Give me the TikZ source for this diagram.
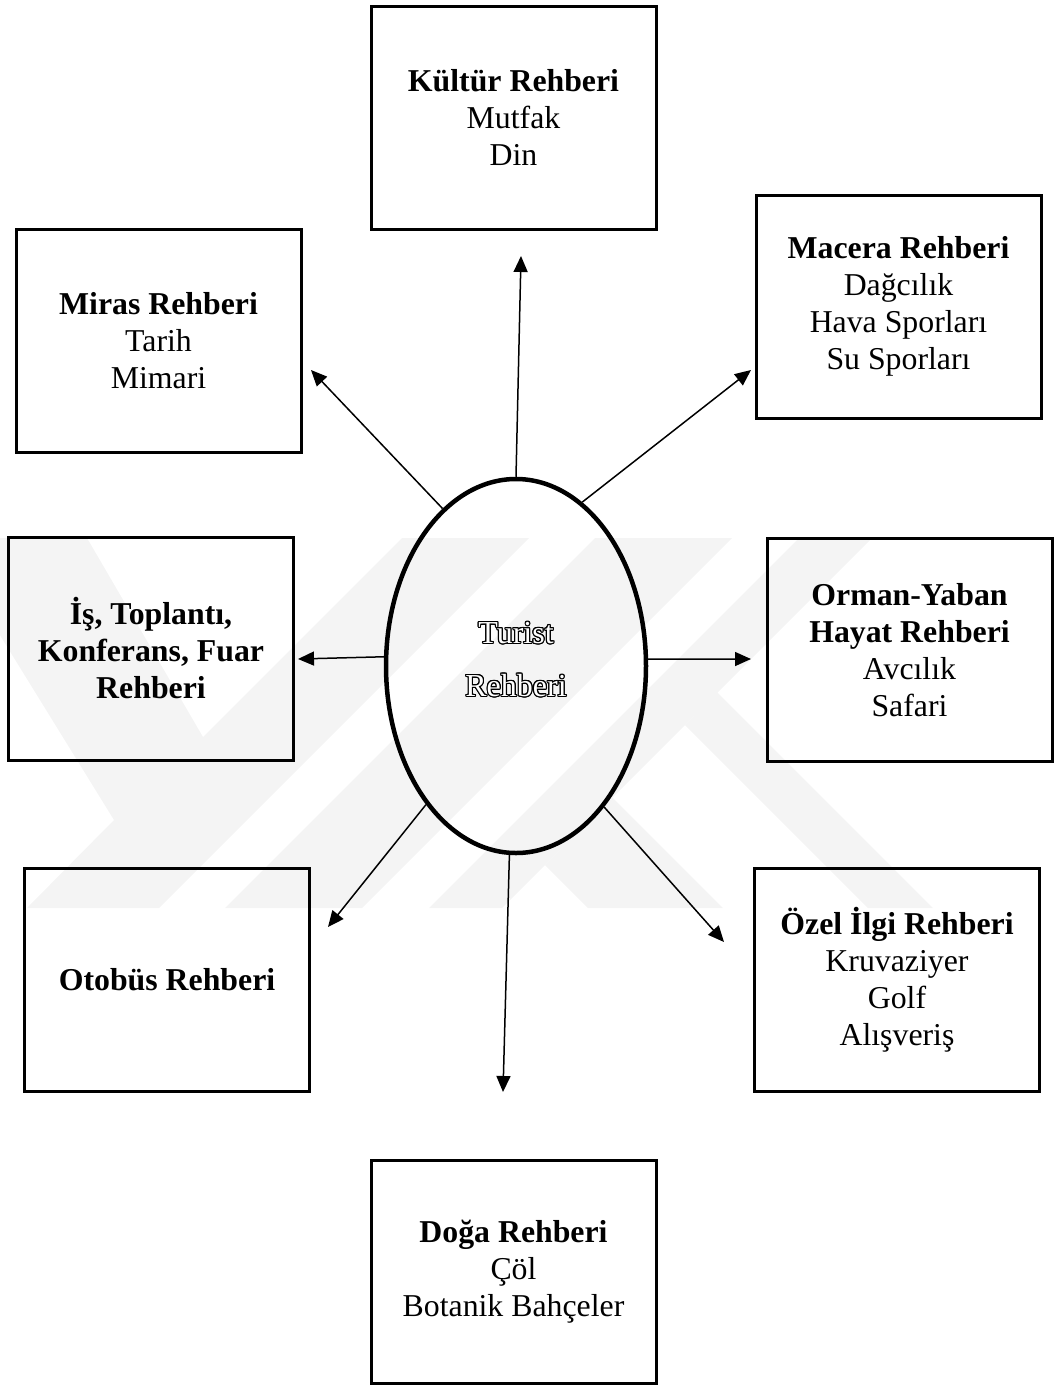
\documentclass[tikz,border=0pt]{standalone}
\usepackage{fontspec}
\setmainfont{Liberation Serif}
\usepackage{contour}
\contourlength{1.1pt}
\usetikzlibrary{shapes.geometric,arrows.meta}
\definecolor{wmark}{gray}{0.955}

\begin{document}
\begin{tikzpicture}[
  x=1pt, y=-1pt,
  guidebox/.style={draw, line width=3pt, align=center, inner sep=0pt,
    minimum width=285pt, minimum height=223pt,
    font=\fontsize{31.8pt}{37pt}\selectfont},
  hub/.style={ellipse, draw, line width=4.5pt, inner sep=0pt,
    minimum width=260pt, minimum height=374pt},
  hubtext/.style={align=center, inner sep=0pt,
    font=\fontsize{32pt}{37pt}\selectfont},
  link/.style={line width=1.5pt, -{Triangle[length=16pt,width=14pt]}}
]
\useasboundingbox (0,0) rectangle (1059,1387);

% faint background emblem
\begin{scope}
  \clip (0,538) rectangle (1059,908);
  \fill[wmark] (-60,538) -- (87,538) -- (203,737) -- (402,538) -- (529,538)
     -- (159,908) -- (27,908) -- (114,820) -- cycle;
  \fill[wmark] (595,538) -- (732,538) -- (362,908) -- (225,908) -- cycle;
  \fill[wmark] (799,538) -- (872,538) -- (502,908) -- (429,908) -- cycle;
  \fill[wmark] (685,725) -- (717,692) -- (933,908) -- (868,908) -- cycle;
  \fill[wmark] (545,865) -- (612,797) -- (723,908) -- (588,908) -- cycle;
\end{scope}

% central node
\node[hub] (ell) at (516,666) {};
\node[hubtext] (elltext) at (516,660)
  {\contour{black}{\textcolor{white}{Turist}}\\[16pt]\contour{black}{\textcolor{white}{Rehberi}}};

% surrounding guide types
\node[guidebox] (kultur) at (513.5,117.5)
  {\textbf{Kültür Rehberi}\\Mutfak\\Din};
\node[guidebox] (macera) at (898.5,306.5)
  {\textbf{Macera Rehberi}\\Dağcılık\\Hava Sporları\\Su Sporları};
\node[guidebox] (miras) at (158.5,341)
  {\textbf{Miras Rehberi}\\Tarih\\Mimari};
\node[guidebox] (is) at (151,648.5)
  {\textbf{İş, Toplantı,}\\\textbf{Konferans, Fuar}\\\textbf{Rehberi}};
\node[guidebox] (orman) at (909.5,650)
  {\textbf{Orman-Yaban}\\\textbf{Hayat Rehberi}\\Avcılık\\Safari};
\node[guidebox] (otobus) at (167,979.5)
  {\textbf{Otobüs Rehberi}};
\node[guidebox] (ozel) at (897,980)
  {\textbf{Özel İlgi Rehberi}\\Kruvaziyer\\Golf\\Alışveriş};
\node[guidebox] (doga) at (513.5,1271.5)
  {\textbf{Doğa Rehberi}\\Çöl\\Botanik Bahçeler};

% arrow ends
\coordinate (tKultur) at (521,256);
\coordinate (tMacera) at (751,370);
\coordinate (tMiras)  at (311,370);
\coordinate (tIs)     at (298,659);
\coordinate (tOrman)  at (751,659);
\coordinate (tOtobus) at (328,927);
\coordinate (tOzel)   at (724,942);
\coordinate (tDoga)   at (503,1092);

\draw[link] (ell.90.9)  -- (tKultur);
\draw[link] (ell.68)    -- (tMacera);
\draw[link] (ell.115.3) -- (tMiras);
\draw[link] (ell.176.9) -- (tIs);
\draw[link] (ell.3.1)   -- (tOrman);
\draw[link] (ell.237.6) -- (tOtobus);
\draw[link] (ell.302.3) -- (tOzel);
\draw[link] (ell.268.9) -- (tDoga);
\end{tikzpicture}
\end{document}
